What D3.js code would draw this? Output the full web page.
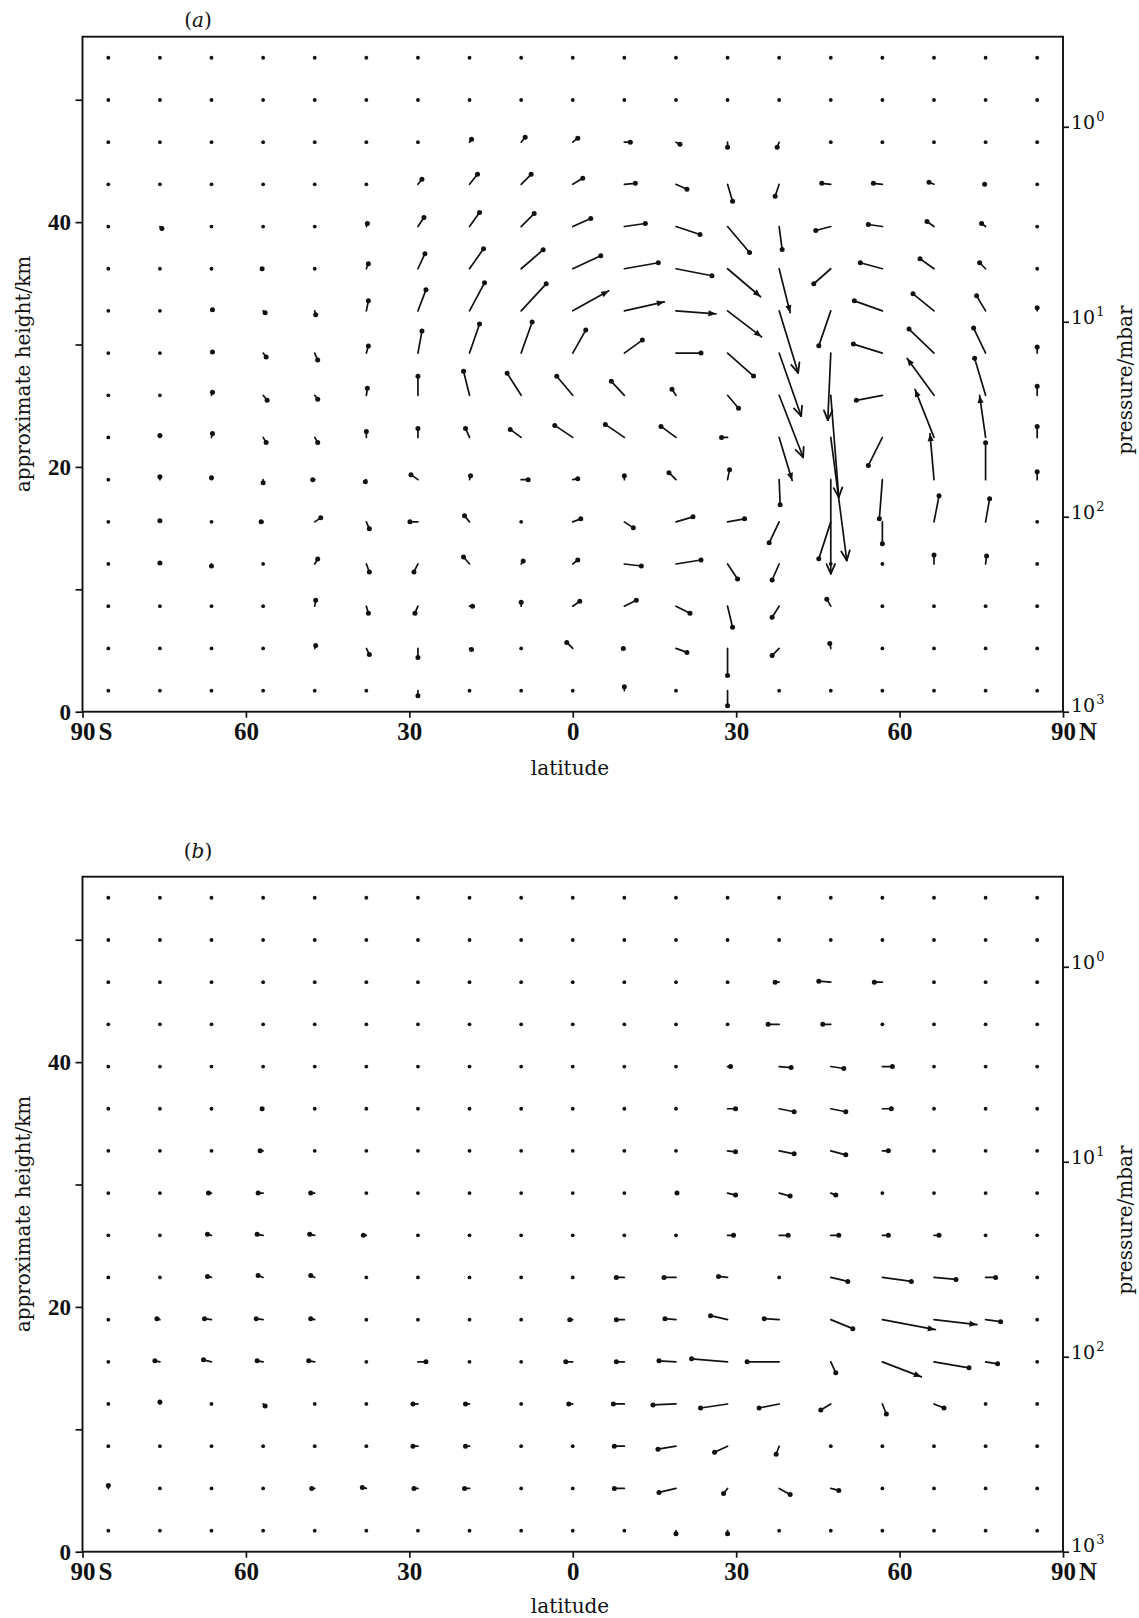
<!DOCTYPE html>
<html><head><meta charset="utf-8">
<script src="https://cdn.jsdelivr.net/npm/d3@7"></script>
<style>
html,body{margin:0;padding:0;background:#fff;}
svg{display:block;}
text{font-family:"DejaVu Serif",serif;fill:#111;}
</style></head><body>
<svg id="chart" width="1139" height="1618"></svg>
<script>
// grid of the vectors: latitude of each column, height (km) of each row (top row first)
const latitudes = [-85.26,-75.79,-66.32,-56.84,-47.37,-37.89,-28.42,-18.95,-9.47,0,9.47,18.95,28.42,37.89,47.37,56.84,66.32,75.79,85.26];
const heights = [53.43,49.98,46.53,43.09,39.64,36.19,32.75,29.30,25.85,22.41,18.96,15.51,12.07,8.62,5.17,1.72];
const latTicks = [-90,-60,-30,0,30,60,90];
const kmTicks = [0,10,20,30,40,50];
const kmLabels = [0,20,40];
const pTicks = [1,10,100,1000];
const pExponents = ["0","1","2","3"];
const panelNames = ["a","b"];

// panel (a): horizontal (northward) and vertical (upward) components, rows top to bottom
const aU = [
[0,0,0,0,0,0,0,0,0,0,0,0,0,0,0,0,0,0,0],
[0,0,0,0,0,0,0,0,0,0,0,0,0,0,0,0,0,0,0],
[0,0,0,0,0,0,0,2,4,5,6,4,0,-2,0,0,0,0,0],
[0,0,0,0,0,0,4,8,10,10,11,11,5,-4,-9,-9,-5,-1,0],
[0,2,0,0,0,1,6,10,13,18,21,24,22,3,-15,-14,-7,-4,0],
[0,0,0,-1,0,2,7,14,22,28,34,36,33,11,-17,-22,-14,-6,0],
[0,0,1,2,1,2,8,15,25,36,40,40,34,19,-12,-28,-21,-9,0],
[0,0,1,3,3,2,4,10,11,13,18,25,26,22,-3,-29,-25,-12,0],
[0,0,1,4,3,1,0,-6,-14,-16,-13,-4,11,24,8,-26,-27,-11,0],
[0,0,1,3,3,0,0,-4,-11,-18,-19,-15,-6,13,16,-14,-19,-6,0],
[0,0,0,0,-2,-1,-7,1,7,5,0,-7,2,1,0,-3,-4,0,0],
[0,0,0,-2,6,3,-8,-5,0,8,9,17,17,-10,-12,0,5,4,0],
[0,0,0,0,3,3,-4,-6,2,5,17,25,10,-7,0,0,0,1,0],
[0,0,0,0,1,2,-3,3,0,7,12,14,5,-7,-4,0,0,0,0],
[0,0,0,0,1,3,0,2,0,-6,-1,11,0,-7,-1,0,0,0,0],
[0,0,0,0,0,0,0,0,0,0,0,0,0,0,0,0,0,0,0]
];
const aW = [
[0,0,0,0,0,0,0,0,0,0,0,0,0,0,0,0,0,0,0],
[0,0,0,0,0,0,0,0,0,0,0,0,0,0,0,0,0,0,0],
[0,0,0,0,0,0,0,3,5,4,0,-2,-5,-5,0,0,0,0,0],
[0,0,0,0,0,0,5,10,10,6,1,-5,-17,-12,1,1,2,0,0],
[0,-2,0,0,0,3,9,14,13,8,3,-8,-26,-23,-4,2,5,3,0],
[0,0,0,0,0,5,15,20,19,13,6,-7,-28,-44,-15,6,10,6,0],
[0,0,1,-2,-4,10,21,28,27,20,9,-3,-26,-62,-35,10,17,15,3],
[0,0,1,-4,-7,7,22,29,31,23,13,0,-23,-63,-67,9,24,25,6],
[0,0,3,-5,-4,7,19,24,22,19,14,6,-13,-62,-102,-5,37,37,9],
[0,2,4,-5,-5,6,9,9,8,12,13,11,0,-43,-123,-28,48,42,11],
[0,3,2,-3,0,-2,5,4,0,1,4,7,10,-25,-94,-39,46,37,8],
[0,1,0,0,4,-7,0,6,0,3,-6,5,3,-21,-37,-22,26,23,0],
[0,1,-2,0,5,-8,-8,7,3,4,-2,4,-15,-16,0,0,9,8,0],
[0,0,0,0,6,-7,-7,0,4,5,6,-7,-21,-11,7,0,0,0,0],
[0,0,0,0,3,-6,-9,-1,0,6,0,-4,-27,-7,5,0,0,0,0],
[0,0,0,0,0,0,-5,0,0,0,4,0,-15,0,0,0,0,0,0]
];

// panel (b)
const bU = [
[0,0,0,0,0,0,0,0,0,0,0,0,0,0,0,0,0,0,0],
[0,0,0,0,0,0,0,0,0,0,0,0,0,0,0,0,0,0,0],
[0,0,0,0,0,0,0,0,0,0,0,0,0,-4,-12,-8,0,0,0],
[0,0,0,0,0,0,0,0,0,0,0,0,0,-11,-8,0,0,0,0],
[0,0,0,0,0,0,0,0,0,0,0,0,3,12,13,10,0,0,0],
[0,0,0,-1,0,0,0,0,0,0,0,0,8,15,15,9,0,0,0],
[0,0,0,-3,0,0,0,0,0,0,0,0,8,15,15,6,0,0,0],
[0,0,-3,-5,-4,0,0,0,0,0,0,1,8,11,5,0,0,0,0],
[0,0,-4,-6,-5,-3,0,0,0,0,0,0,6,9,8,6,5,0,0],
[0,0,-4,-5,-4,0,0,0,0,0,-8,-12,-9,0,17,29,22,10,0],
[0,-3,-7,-7,-4,0,0,0,0,-3,-8,-11,-17,-15,22,53,43,15,0],
[0,-5,-8,-6,-6,0,8,0,0,-7,-8,-17,-36,-32,5,39,35,12,0],
[0,0,0,2,0,0,-5,-4,0,-4,-11,-23,-27,-20,-10,4,10,0,0],
[0,0,0,0,0,0,-5,-4,0,0,-10,-18,-13,-3,0,0,0,0,0],
[0,0,0,0,-3,-4,-4,-5,0,0,-10,-17,-4,11,8,0,0,0,0],
[0,0,0,0,0,0,0,0,0,0,0,0,0,0,0,0,0,0,0]
];
const bW = [
[0,0,0,0,0,0,0,0,0,0,0,0,0,0,0,0,0,0,0],
[0,0,0,0,0,0,0,0,0,0,0,0,0,0,0,0,0,0,0],
[0,0,0,0,0,0,0,0,0,0,0,0,0,0,1,0,0,0,0],
[0,0,0,0,0,0,0,0,0,0,0,0,0,0,0,0,0,0,0],
[0,0,0,0,0,0,0,0,0,0,0,0,0,-1,-2,0,0,0,0],
[0,0,0,0,0,0,0,0,0,0,0,0,0,-3,-3,0,0,0,0],
[0,0,0,0,0,0,0,0,0,0,0,0,-1,-3,-4,0,0,0,0],
[0,0,0,0,0,0,0,0,0,0,0,0,-2,-3,-2,0,0,0,0],
[0,0,1,1,1,0,0,0,0,0,0,0,0,0,0,0,0,0,0],
[0,0,1,2,2,0,0,0,0,0,0,0,1,0,-4,-4,-2,0,0],
[0,1,1,1,1,0,0,0,0,0,0,1,4,1,-9,-10,-5,-2,0],
[0,1,2,1,1,0,0,0,0,0,0,1,3,0,-11,-15,-6,-2,0],
[0,2,0,-2,0,0,0,0,0,0,0,-1,-4,-4,-6,-10,-4,0,0],
[0,0,0,0,0,0,0,0,0,0,0,-3,-6,-8,0,0,0,0,0],
[3,0,0,0,0,1,0,0,0,0,0,-4,-5,-6,-2,0,0,0,0],
[0,0,0,0,0,0,0,0,0,0,0,-3,-3,0,0,0,0,0,0]
];

const svg = d3.select("#chart");
svg.append("rect").attr("width",1139).attr("height",1618).attr("fill","#fff");

const INK = "#111";
const NUMFONT = "'Liberation Serif', 'Times New Roman', serif";
const x = d3.scaleLinear().domain([-90,90]).range([82.5,1063]);
const vec = d3.scaleLinear().domain([0,10]).range([0,10]);
const plotH = 675, zTop = 55.15, kmPerDecade = 15.93;
const pTop = 1000/Math.pow(10, zTop/kmPerDecade);

const panels = [
  {name:panelNames[0], top:36.7, U:aU, W:aW, labelY:27, latY:775, yLabelC:374, pLabelC:380},
  {name:panelNames[1], top:876.7, U:bU, W:bW, labelY:858, latY:1613, yLabelC:1214, pLabelC:1220}
];

function styleAxis(ax, fs, bold){
  ax.select(".domain").remove();
  ax.selectAll(".tick line").attr("stroke",INK).attr("stroke-width",1.7);
  ax.selectAll(".tick text").style("font-family",NUMFONT).attr("font-size",fs)
    .attr("font-weight",bold?"bold":"normal").attr("fill",INK);
}

function drawVector(g, x0, y0, dx, dy){
  const len = Math.hypot(dx,dy);
  if(len < 1){
    g.append("circle").attr("cx",x0).attr("cy",y0).attr("r",1.9).attr("fill",INK);
    return;
  }
  const x1 = x0+dx, y1 = y0+dy;
  g.append("line").attr("x1",x0).attr("y1",y0).attr("x2",x1).attr("y2",y1)
    .attr("stroke",INK).attr("stroke-width",1.7).attr("stroke-linecap","round");
  const a = Math.atan2(dy,dx);
  if(len >= 58){
    [0.42,-0.42].forEach(s=>{
      g.append("line").attr("x1",x1).attr("y1",y1)
        .attr("x2",x1-10.5*Math.cos(a+s)).attr("y2",y1-10.5*Math.sin(a+s))
        .attr("stroke",INK).attr("stroke-width",1.8).attr("stroke-linecap","round");
    });
  } else if(len >= 40){
    const bx = x1-7.5*Math.cos(a), by = y1-7.5*Math.sin(a);
    const px = -Math.sin(a)*3.1, py = Math.cos(a)*3.1;
    g.append("path").attr("d",`M${x1},${y1}L${bx+px},${by+py}L${bx-px},${by-py}Z`).attr("fill",INK);
  } else {
    g.append("circle").attr("cx",x1).attr("cy",y1).attr("r",2.5).attr("fill",INK);
  }
}

panels.forEach(P=>{
  const g = svg.append("g");
  const y = d3.scaleLinear().domain([0,zTop]).range([P.top+plotH,P.top]);
  const yp = d3.scaleLog().domain([1000,pTop]).range([P.top+plotH,P.top]);

  // vectors
  const vg = g.append("g");
  heights.forEach((z,r)=>{
    latitudes.forEach((la,c)=>{
      drawVector(vg, x(la), y(z), vec(P.U[r][c]), -vec(P.W[r][c]));
    });
  });

  // frame
  g.append("rect").attr("x",x(-90)).attr("y",P.top).attr("width",x(90)-x(-90)).attr("height",plotH)
    .attr("fill","none").attr("stroke",INK).attr("stroke-width",1.9);

  // bottom axis
  const xa = g.append("g").attr("transform",`translate(0,${P.top+plotH})`)
    .call(d3.axisBottom(x).tickValues(latTicks).tickSize(6).tickPadding(5).tickFormat(d=>Math.abs(d)));
  styleAxis(xa,25,true);
  [["S",-90],["N",90]].forEach(([s,v])=>{
    xa.append("text").attr("x",x(v)+16).attr("y",11).attr("dy","0.71em").attr("text-anchor","start")
      .style("font-family",NUMFONT).attr("font-size",25).attr("font-weight","bold").attr("fill",INK).text(s);
  });

  // left axis (km)
  const ya = g.append("g").attr("transform",`translate(${x(-90)},0)`)
    .call(d3.axisLeft(y).tickValues(kmTicks).tickSize(7).tickPadding(4.5).tickFormat(d=>kmLabels.includes(d)?d:""));
  styleAxis(ya,23,true);

  // right axis (pressure)
  const pa = g.append("g").attr("transform",`translate(${x(90)},0)`)
    .call(d3.axisRight(yp).tickValues(pTicks).tickSize(6).tickFormat(""));
  styleAxis(pa,19,false);
  pTicks.forEach((p,i)=>{
    const t = pa.append("text").attr("x",8).attr("y",yp(p)).attr("dy",p===1000?"0em":"0.25em")
      .attr("text-anchor","start").attr("fill",INK);
    t.append("tspan").attr("font-size",19).text("10");
    t.append("tspan").attr("font-size",13).attr("dy",-8).attr("dx",1).text(pExponents[i]);
  });

  // titles
  const pl = g.append("text").attr("x",198).attr("y",P.labelY).attr("text-anchor","middle").attr("font-size",20);
  pl.append("tspan").text("(");
  pl.append("tspan").attr("font-style","italic").text(P.name);
  pl.append("tspan").text(")");

  g.append("text").attr("x",570).attr("y",P.latY).attr("text-anchor","middle").attr("font-size",20).text("latitude");
  g.append("text").attr("transform",`translate(30,${P.yLabelC}) rotate(-90)`).attr("text-anchor","middle")
    .attr("font-size",20).text("approximate height/km");
  g.append("text").attr("transform",`translate(1132,${P.pLabelC}) rotate(-90)`).attr("text-anchor","middle")
    .attr("font-size",20).text("pressure/mbar");
});
</script>
</body></html>
